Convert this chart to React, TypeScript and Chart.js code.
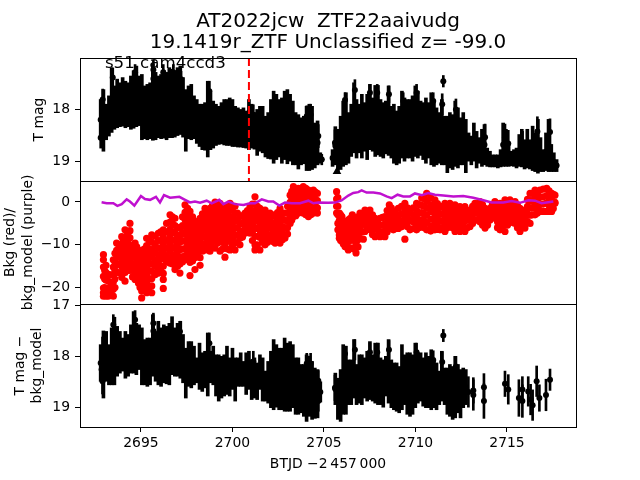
import React, { useEffect, useRef } from "react";
import { Chart, registerables } from "chart.js";

Chart.register(...registerables);

const FONT = "'DejaVu Sans'";
const titleLines = ["AT2022jcw  ZTF22aaivudg", "19.1419r_ZTF Unclassified z= -99.0"];
const sectorNote = "s51 cam4ccd3";
const xTicks = [2695, 2700, 2705, 2710, 2715];
const y1Ticks = [18, 19];
const y2Ticks = [0, -10, -20];
const y3Ticks = [17, 18, 19];
const discoveryTime = 2700.9;

const leftTimes = [2692.8,2692.95,2693.1,2693.25,2693.4,2693.55,2693.7,2693.85,2694,2694.15,2694.3,2694.45,2694.6,2694.75,2694.9,2695.05,2695.2,2695.35,2695.5,2695.65,2695.8,2695.95,2696.1,2696.25,2696.4,2696.55,2696.7,2696.85,2697,2697.15,2697.3,2697.45,2697.6,2697.75,2697.9,2698.05,2698.2,2698.35,2698.5,2698.65,2698.8,2698.95,2699.1,2699.25,2699.4,2699.55,2699.7,2699.85,2700,2700.15,2700.3,2700.45,2700.6,2700.75,2700.9,2701.05,2701.2,2701.35,2701.5,2701.65,2701.8,2701.95,2702.1,2702.25,2702.4,2702.55,2702.7,2702.85,2703,2703.15,2703.3,2703.45,2703.6,2703.75,2703.9,2704.05,2704.2,2704.35,2704.5,2704.65,2704.8];
const rightTimes = [2705.47,2705.62,2705.76,2705.91,2706.05,2706.2,2706.34,2706.49,2706.64,2706.78,2706.93,2707.07,2707.22,2707.36,2707.51,2707.66,2707.8,2707.95,2708.09,2708.24,2708.38,2708.53,2708.68,2708.82,2708.97,2709.11,2709.26,2709.4,2709.55,2709.7,2709.84,2709.99,2710.13,2710.28,2710.42,2710.57,2710.72,2710.86,2711.01,2711.15,2711.3,2711.44,2711.59,2711.74,2711.88,2712.03,2712.17,2712.32,2712.46,2712.61,2712.75,2712.9,2713.05,2713.19,2713.34,2713.48,2713.63,2713.77,2713.92,2714.07,2714.21,2714.36,2714.5,2714.65,2714.79,2714.94,2715.09,2715.23,2715.38,2715.52,2715.67,2715.81,2715.96,2716.11,2716.25,2716.4,2716.54,2716.69,2716.83,2716.98,2717.13,2717.27,2717.42,2717.56,2717.71];

const magLeftBright = [17.81,17.62,17.90,17.74,17.20,17.55,17.42,17.49,17.39,17.46,17.49,17.36,17.26,17.17,17.36,17.33,17.55,17.52,17.49,17.13,17.29,17.36,17.33,17.26,17.29,17.20,17.23,17.26,17.20,17.17,17.39,17.62,17.55,17.52,17.74,17.81,17.90,17.90,17.87,17.46,17.68,17.84,17.90,17.94,17.87,17.81,17.81,17.78,17.81,17.94,17.97,18.00,17.97,18.03,17.81,17.90,18.06,18.00,17.94,17.94,18.13,18.06,17.81,17.65,17.71,17.81,17.78,17.65,17.62,17.71,17.84,18.06,18.10,18.16,18.13,17.94,17.90,17.94,18.26,18.22,18.83];
const magLeftFaint = [18.58,18.80,18.58,18.51,18.44,18.38,18.35,18.33,18.32,18.35,18.33,18.38,18.36,18.33,18.31,18.58,18.56,18.58,18.56,18.59,18.58,18.54,18.56,18.55,18.58,18.54,18.54,18.53,18.50,18.48,18.53,18.80,18.56,18.58,18.56,18.65,18.71,18.77,18.78,18.91,18.77,18.74,18.69,18.67,18.66,18.68,18.69,18.69,18.71,18.71,18.72,18.72,18.73,18.74,18.77,18.74,18.76,18.88,18.80,18.83,18.91,18.94,18.95,19.03,18.96,18.91,19.03,18.96,19.04,18.99,19.06,19.06,19.14,19.06,19.04,19.17,19.17,19.15,19.12,19.06,19.03];
const magRightBright = [18.77,18.33,18.38,18.13,17.84,17.68,18.06,17.90,17.49,17.81,17.90,17.71,17.87,17.71,17.52,17.78,17.54,17.54,17.81,17.87,17.84,17.55,17.94,17.90,18.03,17.94,17.65,17.78,17.81,17.81,17.74,17.55,17.65,17.84,17.87,17.78,17.87,17.68,17.84,17.97,18.06,17.81,18.13,18.13,18.06,18.10,17.84,17.97,18.16,18.06,18.19,18.45,18.51,18.26,18.42,18.54,18.38,18.29,18.74,18.80,18.87,18.87,18.87,18.77,18.26,18.38,18.67,18.80,18.77,18.74,18.48,18.38,18.58,18.38,18.58,18.32,18.45,18.19,18.54,18.77,18.45,18.19,18.67,18.83,18.96];
const magRightFaint = [19.09,19.06,19.23,19.15,19.09,19.06,19.03,18.90,18.83,18.93,18.83,18.93,18.80,18.96,18.77,18.80,18.90,18.87,18.90,18.93,18.85,18.88,18.93,19.03,19.06,19.03,18.93,18.99,18.93,18.93,18.99,18.90,18.93,18.88,18.96,19.03,18.93,19.06,19.09,19.06,19.03,19.06,19.06,19.21,19.12,19.15,19.09,19.12,19.06,19.06,19.21,18.99,19.06,18.99,19.12,19.03,19.09,19.06,19.09,19.10,19.10,19.10,19.12,19.10,19.09,19.09,19.09,19.08,19.09,19.12,19.09,19.10,19.14,19.12,19.14,19.17,19.19,19.22,19.19,19.19,19.17,19.19,19.19,19.19,19.19];

const magPointTimes = [2692.91,2692.8,2693.46,2693.58,2694.68,2695.68,2695.68,2696.22,2696.77,2697.04,2697.19,2698.74,2700.87,2701.14,2704.06,2704.27,2704.69,2704.88,2705.6,2706.15,2706.69,2707.51,2707.91,2708.55,2709.33,2710.06,2710.97,2711.52,2711.46,2712.21,2713.8,2714.89,2715.07,2715.85,2716.66,2717.35];
const magPointValues = [17.81,18.54,17.39,17.94,17.29,17.24,17.41,17.29,17.29,17.46,17.42,17.65,18.22,18.10,18.13,18.10,18.51,18.96,18.64,17.82,17.63,17.68,17.68,17.71,17.84,17.68,17.84,17.46,17.90,18.00,18.53,18.53,18.65,18.67,18.42,18.43];
const magPointErrors = [0.2,0.2,0.18,0.2,0.15,0.18,0.2,0.15,0.15,0.15,0.15,0.19,0.2,0.19,0.2,0.2,0.22,0.1,0.25,0.14,0.2,0.16,0.16,0.16,0.16,0.16,0.16,0.11,0.2,0.2,0.25,0.25,0.25,0.25,0.28,0.25];

const limitTimes = [2704.8,2705.71];
const limitMags = [18.92,19.19];

const corrLeftBright = [17.77,17.50,17.51,17.77,17.44,17.23,17.41,17.51,17.64,17.51,17.57,17.38,17.12,17.35,17.38,17.44,17.67,17.64,17.64,17.18,17.51,17.31,17.44,17.38,17.41,17.35,17.22,17.44,17.35,17.31,17.57,17.84,17.71,17.71,17.80,18.03,17.74,17.93,17.90,17.54,17.90,17.80,17.97,17.97,18.00,17.97,17.80,18.03,17.84,18.03,18.03,17.93,18.10,17.93,17.90,18.07,18.03,18.13,17.97,18.03,18.29,18.10,17.90,17.67,17.77,17.84,17.84,17.64,17.74,17.71,17.77,18.03,18.03,18.16,18.16,17.97,18.00,18.10,18.23,18.26,18.50];
const corrLeftFaint = [18.49,18.82,18.49,18.56,18.56,18.56,18.39,18.33,18.29,18.43,18.39,18.33,18.33,18.36,18.26,18.56,18.56,18.59,18.56,18.39,18.49,18.56,18.59,18.52,18.54,18.56,18.36,18.39,18.39,18.43,18.52,18.82,18.59,18.62,18.56,18.52,18.65,18.69,18.62,18.78,18.52,18.56,18.78,18.88,18.82,18.78,18.75,18.78,18.65,18.88,18.59,18.59,18.59,18.75,18.65,18.85,18.82,18.85,18.65,18.88,18.88,18.92,19.01,19.05,19.00,19.05,19.05,19.08,19.08,19.08,19.01,19.14,19.14,19.11,19.18,19.28,19.18,19.24,19.22,19.21,18.90];
const corrRightBright = [18.33,18.43,18.26,17.77,17.80,18.07,18.07,17.67,18.16,17.97,17.97,18.03,17.90,17.71,17.97,17.74,17.74,18.03,18.07,18.00,17.67,18.07,18.13,18.13,18.20,17.77,17.97,17.93,17.93,17.97,17.74,17.93,17.93,18.03,17.93,18.00,17.87,18.07,18.13,18.29,17.90,18.23,18.23,18.16,18.20,18.00,18.16,18.26,18.23,18.26];
const corrRightFaint = [18.95,19.24,19.28,19.14,19.14,18.95,18.95,18.82,18.95,18.92,18.95,18.82,18.88,18.85,18.88,18.92,18.95,18.95,19.00,18.78,18.92,19.01,19.05,19.08,19.11,19.05,18.95,19.14,19.18,19.14,19.01,18.92,18.88,18.98,19.01,19.01,19.05,19.01,19.05,18.95,18.88,18.95,19.14,19.18,19.24,19.21,19.11,19.21,19.01,18.95];

const corrPointTimes = [2692.9,2692.85,2692.9,2693.49,2694.68,2695.68,2695.68,2697.13,2698.74,2701.14,2704.06,2704.27,2704.69,2704.69,2705.6,2706.15,2706.69,2707.51,2707.91,2708.55,2710.06,2710.97,2711.52,2711.46,2712.21,2712.89,2713.16,2713.16,2713.74,2713.74,2714.89,2715.07,2715.65,2715.84,2715.84,2716.16,2716.29,2716.4,2716.62,2716.77,2717.13,2717.35];
const corrPointValues = [17.87,18.26,18.49,17.38,17.28,17.35,17.50,17.51,17.74,18.10,18.14,18.14,18.48,18.88,18.62,17.95,17.87,17.92,17.92,17.87,17.92,18.07,17.59,18.11,18.20,18.70,18.67,18.76,18.61,18.88,18.54,18.65,18.82,18.65,18.88,18.69,18.85,18.96,18.49,18.82,18.76,18.46];
const corrPointErrors = [0.25,0.25,0.25,0.2,0.18,0.2,0.2,0.2,0.2,0.2,0.2,0.2,0.2,0.2,0.25,0.15,0.2,0.18,0.18,0.18,0.18,0.18,0.12,0.2,0.2,0.3,0.25,0.3,0.27,0.34,0.25,0.29,0.36,0.25,0.32,0.29,0.3,0.3,0.3,0.26,0.31,0.21];

const bkgTimes = [2692.95,2693.09,2693.22,2693.49,2693.67,2693.95,2694.13,2694.4,2694.68,2694.86,2695.04,2695.31,2695.59,2695.95,2696.22,2696.59,2696.86,2697.13,2697.41,2697.68,2697.95,2698.23,2698.5,2698.77,2699.05,2699.32,2699.59,2699.87,2700.14,2700.41,2700.69,2700.96,2701.23,2701.5,2701.78,2702.05,2702.33,2702.6,2702.87,2703.15,2703.33,2703.6,2703.87,2704.15,2704.42,2704.64,2705.69,2705.84,2705.98,2706.15,2706.33,2706.55,2706.75,2706.97,2707.15,2707.24,2707.51,2707.79,2708.06,2708.33,2708.57,2708.79,2709.06,2709.42,2709.7,2710.06,2710.34,2710.61,2711.06,2711.34,2711.61,2711.88,2712.16,2712.43,2712.7,2712.98,2713.25,2713.52,2713.8,2714.07,2714.34,2714.62,2714.89,2715.16,2715.44,2715.71,2715.98,2716.26,2716.53,2716.8,2717.17,2717.44,2717.62];
const bkgValues = [[-12.3,-13.5,-15.2,-17.4,-20.1,-21.2,-22],[-14.8,-16.5,-18.2,-20.5,-22],[-16.9,-18.5,-20.2,-22],[-13.5,-15.2,-17,-18.7,-20.4,-22],[-9.6,-11.3,-13,-14.7,-16.5],[-8.1,-9.8,-11.5,-13.2,-15,-16.7,-17.6],[-6.5,-8.2,-9.9,-11.6,-13.3,-15,-16.5,-18.5],[-5,-6.7,-8.4,-10.1,-11.8,-13.5,-15.2,-16],[-9.6,-11.3,-13,-14.7,-16.4,-18.1],[-11.2,-12.9,-14.6,-16.3,-18,-18.9],[-12.3,-14,-15.7,-17.4,-19.1,-20.8,-22.4],[-8.5,-10.2,-11.9,-13.6,-15.3,-17,-18.7,-20.4,-21.2],[-7.7,-9.4,-11.1,-12.8,-14.5,-16.2,-17.9,-19.6,-21.2],[-7.3,-9,-10.7,-12.4,-14.1,-15.8,-16.6],[-6.5,-8.2,-9.9,-11.6,-13.3,-15,-16.7,-18.1,-20.2],[-3,-4.7,-6.4,-8.1,-9.8,-11.5,-13.2,-14.3],[-3.8,-5.5,-7.2,-8.9,-10.6,-12.3,-14,-15.8],[-6,-7.7,-9.4,-11.1,-12.8,-14.5,-16.6],[-0.7,-2.4,-4.1,-5.8,-7.5,-9.2,-10.9,-12.6,-13.5],[-2.2,-3.9,-5.6,-7.3,-9,-10.7,-12.4,-14.1,-17.2],[-4.5,-6.2,-7.9,-9.6,-11.3,-13,-15.8],[-3.8,-5.5,-7.2,-8.9,-10.6,-13,-14.8],[-1.5,-3.2,-4.9,-6.6,-8.3,-10,-11.2],[-1.5,-3.2,-4.9,-6.6,-8.3,-10,-11.5],[0,-1.7,-3.4,-5.1,-6.8,-8.5,-10.8],[-0.3,-2,-3.7,-5.4,-7.1,-8.8,-11.5],[-1.5,-3.2,-4.9,-6.6,-8.3,-10,-12.9],[-0.3,-2,-3.7,-5.4,-7.1,-8.8,-11.2],[-1,-2.7,-4.4,-6.1,-7.8,-9.5,-11.2],[-3.4,-5.1,-6.8,-8.5,-10],[-2.6,-4.3,-6,-7.3],[-1.1,-2.8,-4.5,-6,-7.3],[1.2,-0.5,-2.2,-4,-6,-8,-10,-11.2],[-1.5,-3.2,-4.9,-6.6,-8.3,-11.2],[-1.9,-3.6,-5.3,-7,-8.7,-10],[-2.6,-4.3,-6,-7.7,-8.8],[-3.4,-5.1,-6.8,-8.5,-9.6],[-1.5,-3.2,-4.9,-6.6,-8.3,-9.6],[-2.6,-4.3,-6,-7.7,-8.4],[1.6,-0.1,-1.8,-3.5,-5],[3.6,1.9,0.2,-1.5,-3.2,-3.4],[3.2,1.5,-0.2,-1.9,-2.6],[3.6,1.9,0.2,-1.5,-2.6],[2.8,1.1,-0.6,-2.3,-3.4],[2.8,1.1,-0.6,-2.6],[2,0.3,-1.4,-2.6],[2.4,0.7,-1,-2.6],[-2.6,-4.3,-6,-7.7,-8.5],[-3.4,-5.1,-6.8,-8.5,-9.2],[-5,-6.7,-8.4,-10.4],[-4.2,-5.9,-7.6,-9.3,-11.2],[-3,-4.7,-6.4,-8.1,-10.8],[-4.6,-6.3,-8,-9.7,-11.9],[-2.6,-4.3,-6,-8.5],[-8.7],[-1.9,-3.6,-5.3,-6.9],[-1.9,-3.6,-5.3,-6.5],[-3.8,-5.5,-8.1],[-3.8,-5.5,-7.2,-8.1],[-3.4,-5.1,-6.8,-8.1],[-0.7,-2.4,-4.1,-5.7],[-2.2,-3.9,-5.6,-6.5],[-1.5,-3.2,-4.9,-6.2],[-0.3,-2,-3.7,-5,-8.7],[-2.6,-4.3,-6.5],[-0.3,-2,-3.7,-5.4,-6.5],[0.9,-0.8,-2.5,-4.2,-5.7],[2,0.3,-1.4,-3.1,-4.8,-6.5],[0.5,-1.2,-2.9,-4.6,-6.5],[-1.1,-2.8,-4.5,-6.5],[-0.3,-2,-3.7,-5.4,-6.9],[-0.3,-2,-3.7,-5.4],[-0.7,-2.4,-4.1,-5.8,-6.9],[-1.1,-2.8,-4.5,-6.2,-6.9],[-1.1,-2.8,-4.5,-6.2,-6.9],[-1.9,-3.6,-5.7],[-0.3,-2,-4.2],[0.1,-1.6,-3.3,-4.6],[-1.5,-3.2,-4.9,-6.1],[-1.5,-3.2,-4.2],[0.1,-1.6,-3.4],[-0.3,-2,-3.7,-5.4,-6.5],[0.5,-1.2,-2.9,-4.6,-6.9],[0.5,-1.2,-2.9,-4.2],[0.1,-1.6,-3.3,-5],[-1.5,-3.2,-4.9,-6.9],[-1.9,-3.6,-5.3,-6.1],[2,0.3,-1.4,-3.1,-5],[2.8,1.1,-0.6,-3],[2.8,1.1,-0.6,-2.2],[3.2,1.5,-0.2,-2.2],[2,0.3,-1.4,-2.2],[1.6,-0.1,-0.3]];
const bkgMoreTimes = [2693.02,2693.36,2693.58,2693.81,2694.04,2694.27,2694.54,2694.77,2694.95,2695.17,2695.45,2695.77,2696.08,2696.4,2696.72,2697,2697.27,2697.55,2697.82,2698.09,2698.36,2698.64,2698.91,2699.18,2699.45,2699.73,2700,2700.27,2700.55,2700.82,2701.09,2701.36,2701.64,2701.91,2702.19,2702.46,2702.73,2703.01,2703.24,2703.46,2703.73,2704.01,2704.28,2704.53,2705.76,2705.91,2706.06,2706.24,2706.44,2706.65,2706.86,2707.06,2707.38,2707.65,2707.92,2708.2,2708.45,2708.68,2708.92,2709.24,2709.56,2709.88,2710.2,2710.47,2710.83,2711.2,2711.47,2711.75,2712.02,2712.3,2712.57,2712.84,2713.12,2713.39,2713.66,2713.94,2714.2,2714.48,2714.75,2715.03,2715.3,2715.57,2715.85,2716.12,2716.4,2716.66,2716.98,2717.3,2717.53];
const bkgMoreValues = [[-16,-18,-20,-21.5],[-17,-19,-21],[-12,-14,-16,-18,-20],[-10.5,-12.5,-14.5,-16.5],[-9,-10.8,-12.5,-14.2,-16],[-7.5,-9,-11,-12.8,-14.5,-16],[-10.5,-12.5,-14.5,-16,-17.5],[-10.5,-12,-14,-15.5,-17.5],[-12,-13.5,-15,-17,-18.5,-20],[-11,-13,-15,-16.5,-18,-20],[-9,-11,-12.5,-14.2,-16,-18,-20],[-8,-10,-11.8,-13.5,-15,-17],[-7,-9,-11,-13,-15,-16],[-5,-7,-9,-10.8,-12.5,-14],[-3.5,-5,-7,-9,-10.8,-12.8,-14.5],[-6,-8,-9.8,-11.5,-13.5,-15],[-3.5,-5.5,-7.2,-9,-11,-12.8,-14],[-1.5,-3.2,-5,-6.8,-8.5,-10.2,-12,-13.5],[-3.5,-5,-7,-8.5,-10.2,-12,-13.8],[-5,-6.8,-8.5,-10.2,-12],[-2.8,-4.5,-6.2,-8,-9.8,-11.5],[-2.4,-4,-5.8,-7.5,-9.2,-10.8],[-0.8,-2.5,-4.2,-6,-7.5,-9.2,-10.6],[-1,-2.8,-4.5,-6,-7.8,-9.6],[-1,-2.8,-4.2,-6,-7.6,-9.4,-11],[-1,-2.5,-4.2,-6,-7.6,-9.2,-11],[-1.5,-3.4,-5,-6.8,-8.5,-10.2],[-2.6,-4.2,-6,-7.8,-9.5],[-3.2,-5,-6.8,-8.2],[-2,-3.6,-5.2,-6.8],[-0.5,-2,-3.6,-5.2,-7,-9],[-1,-2.6,-4.4,-6.2,-8,-10],[-2.5,-4.2,-6,-7.6,-9.4],[-3,-4.6,-6.2,-8,-9.4],[-3,-5,-6.5,-8.2,-9.2],[-2.5,-4.2,-6,-7.6,-9.2],[-2.6,-4,-5.8,-7.4,-8.8],[-1,-2.6,-4.4,-6,-7.5],[2.5,1,-0.8,-2.5,-4.2],[2.6,0.9,-0.8,-2.4,-3.2],[2.6,0.8,-1,-2.4],[3.2,1.5,-0.2,-2,-3],[2,0.3,-1.4,-3],[2.3,0.6,-1,-2.4],[1,-1,-3,-5,-6.5],[-3,-5,-7,-9],[-4.5,-6.2,-8,-9.8],[-4.6,-6.4,-8,-9.8,-10.6],[-3.8,-5.6,-7.2,-9,-10.8],[-4,-5.6,-7.2,-9,-11],[-3.5,-5.2,-7,-8.8,-10.5],[-3,-5,-7],[-2.8,-4.4,-6.2],[-3,-4.6,-6.4,-7.6],[-4.6,-6.4,-7.8],[-3.6,-5.4,-7,-8],[-2,-3.8,-5.5,-7],[-1.4,-3.2,-4.8,-6.2],[-2.8,-4.4,-6.2],[-1,-2.8,-4.4,-5.8],[-1.4,-3,-4.8,-5.8],[-1.4,-3,-4.6,-6.2],[-0.6,-2.6,-4.4,-6],[0.8,-1,-2.8,-4.4,-6],[1,-0.6,-2.2,-4,-5.6,-6.8],[-0.4,-2.2,-3.8,-5.6,-6.4],[-1,-2.8,-4.4,-6],[-1,-2.8,-4.6,-6],[-1.2,-3,-4.6,-6],[-1.6,-3.4,-5,-6.6],[-2,-3.6,-5.4,-6.6],[-2.6,-4.2,-6],[-1,-3,-5],[-0.8,-2.6,-4.2],[-0.6,-2.4,-4,-5.4],[-2.4,-4,-5.4],[-0.6,-2.4,-3.8],[-1,-2.8,-4.6,-6],[-0.6,-2.2,-4,-5.8],[-0.3,-2,-3.6,-5.4],[-0.8,-2.4,-4,-4.8],[-0.8,-2.4,-4.2,-6],[-2.4,-4,-5.6],[0.6,-1,-2.8,-4.6],[2,0.3,-1.4,-3],[2,0.3,-1.4,-2.6],[3,1.2,-0.5,-2.2],[2.6,0.9,-0.8,-2.2],[1.8,0.1,-1.5]];

const modelTimes = [2692.85,2693.13,2693.49,2693.71,2693.95,2694.22,2694.4,2694.64,2694.86,2695,2695.22,2695.5,2695.82,2696.04,2696.26,2696.59,2696.86,2697.1,2697.41,2697.68,2697.95,2698.23,2698.59,2698.87,2699.28,2699.5,2699.78,2700.14,2700.6,2700.96,2701.23,2701.6,2701.96,2702.23,2702.56,2702.87,2703.24,2703.69,2704.15,2704.42,2704.69,2705.24,2705.6,2705.96,2706.33,2706.6,2706.87,2707.06,2707.33,2707.7,2708.06,2708.42,2708.7,2709.02,2709.33,2709.7,2709.97,2710.34,2710.7,2711.06,2711.52,2712.07,2712.61,2713.16,2713.71,2714.16,2714.8,2715.25,2715.71,2716.17,2716.53,2716.89,2717.53];
const modelValues = [-0.08,-0.3,-0.3,-0.9,-0.5,0.6,0.1,-0.85,0.5,1.4,0.7,0.5,1.2,-0.1,1.6,1,1.1,1.2,0.5,-0.1,0.1,-0.15,0.3,-0.3,0.5,-0.5,0.1,-0.5,-0.7,-0.3,-0.3,0.6,0.1,0.1,-0.85,-0.15,-0.3,-0.3,0.3,-0.3,-0.1,-0.2,-0.15,0.35,1.5,2.1,2.3,2.7,2.2,2.2,2,1.3,0.9,1.7,1.3,1.3,2,1.6,2.1,1.7,1.5,1.3,1.4,1,0.4,-0.1,-0.1,0.2,-0.2,0.4,0.3,-0.3,0.1];

const bandBars = (times: number[], bright: number[], faint: number[]) =>
  times.flatMap((x, i) => (bright[i] === undefined || faint[i] === undefined ? [] : [{ x, y: [bright[i], faint[i]] }]));
const bandMids = (times: number[], bright: number[], faint: number[]) =>
  times.flatMap((x, i) => (bright[i] === undefined || faint[i] === undefined ? [] : [{ x, y: (bright[i] + faint[i]) / 2 }]));
const errBars = (times: number[], vals: number[], errs: number[]) =>
  times.map((x, i) => ({ x, y: [vals[i] - errs[i], vals[i] + errs[i]] }));
const xy = (times: number[], vals: number[]) => times.map((x, i) => ({ x, y: vals[i] }));

const magBars = [...bandBars(leftTimes, magLeftBright, magLeftFaint), ...bandBars(rightTimes, magRightBright, magRightFaint)];
const magMids = [...bandMids(leftTimes, magLeftBright, magLeftFaint), ...bandMids(rightTimes, magRightBright, magRightFaint)];
const corrRightBandTimes = rightTimes.slice(1, 51);
const corrBars = [...bandBars(leftTimes, corrLeftBright, corrLeftFaint), ...bandBars(corrRightBandTimes, corrRightBright, corrRightFaint)];
const corrMids = [...bandMids(leftTimes, corrLeftBright, corrLeftFaint), ...bandMids(corrRightBandTimes, corrRightBright, corrRightFaint)];
const bkgPoints = [
  ...bkgTimes.flatMap((x, i) => bkgValues[i].map((y) => ({ x, y }))),
  ...bkgMoreTimes.flatMap((x, i) => bkgMoreValues[i].map((y) => ({ x, y }))),
];

const barOpts = { type: "bar" as const, backgroundColor: "#000", borderWidth: 0, grouped: false, xAxisID: "x" };
const dotOpts = { type: "scatter" as const, backgroundColor: "#000", borderColor: "#000", pointRadius: 3, pointBorderWidth: 0, xAxisID: "x" };

const yScale = (ticks: number[], min: number, max: number, reverse: boolean, title: string | string[], titlePad: number) => ({
  type: "linear" as const,
  position: "left" as const,
  stack: "panels",
  stackWeight: 1,
  min,
  max,
  reverse,
  afterFit: (s: any) => { s.width = 80; },
  afterBuildTicks: (s: any) => { s.ticks = ticks.map((value) => ({ value })); },
  border: { display: true, color: "#000", width: 1 },
  grid: { drawOnChartArea: false, drawTicks: true, tickLength: 5, color: "#000" },
  ticks: { color: "#000", padding: 5, font: { family: FONT, size: 13.9 }, callback: (v: any) => String(v).replace("-", "\u2212") },
  title: { display: true, text: title, color: "#000", font: { family: FONT, size: 13.9, lineHeight: 1.25 }, padding: { top: titlePad, bottom: 0 } },
});

const framePlugin = {
  id: "frame",
  afterDatasetsDraw(chart: any) {
    const { ctx, chartArea: a, scales } = chart;
    ctx.save();
    ctx.fillStyle = "#000";
    ctx.font = `16.67px ${FONT}`;
    ctx.textBaseline = "middle";
    ctx.fillText(sectorNote, scales.x.getPixelForValue(2693.03), scales.y1.getPixelForValue(17.13));
    ctx.strokeStyle = "#000";
    ctx.lineWidth = 1;
    ctx.strokeRect(a.left + 0.5, a.top + 0.5, a.right - a.left, a.bottom - a.top);
    [scales.y1.bottom, scales.y2.bottom].forEach((y: number) => {
      ctx.beginPath();
      ctx.moveTo(a.left, Math.round(y) + 0.5);
      ctx.lineTo(a.right, Math.round(y) + 0.5);
      ctx.stroke();
    });
    ctx.restore();
  },
};

export default function App() {
  const ref = useRef<HTMLCanvasElement>(null);
  useEffect(() => {
    if (!ref.current) return;
    const chart = new Chart(ref.current, {
      type: "scatter",
      plugins: [framePlugin],
      data: {
        datasets: [
          { ...barOpts, label: "T mag errors", yAxisID: "y1", barThickness: 3, data: magBars, order: 5 },
          { ...barOpts, label: "T mag point errors", yAxisID: "y1", barThickness: 2, data: errBars(magPointTimes, magPointValues, magPointErrors), order: 5 },
          { ...dotOpts, label: "T mag", yAxisID: "y1", data: [...magMids, ...xy(magPointTimes, magPointValues)], order: 4 },
          { ...dotOpts, label: "T mag limits", yAxisID: "y1", pointStyle: "triangle", pointRadius: 5, data: xy(limitTimes, limitMags), order: 4 },
          { type: "line", label: "Discovery", xAxisID: "x", yAxisID: "y1", data: [{ x: discoveryTime, y: 17.015 }, { x: discoveryTime, y: 19.37 }], borderColor: "#ff0000", borderWidth: 2, borderDash: [8, 4], pointRadius: 0, order: 1 },
          { ...dotOpts, label: "Bkg", yAxisID: "y2", backgroundColor: "#ff0000", borderColor: "#ff0000", pointRadius: 3.6, data: bkgPoints, order: 3 },
          { type: "line", label: "bkg_model", xAxisID: "x", yAxisID: "y2", data: xy(modelTimes, modelValues), borderColor: "#bf10cf", borderWidth: 2.5, pointRadius: 0, tension: 0, order: 2 },
          { ...barOpts, label: "T mag − bkg_model errors", yAxisID: "y3", barThickness: 3, data: corrBars, order: 5 },
          { ...barOpts, label: "point errors", yAxisID: "y3", barThickness: 2, data: errBars(corrPointTimes, corrPointValues, corrPointErrors), order: 5 },
          { ...dotOpts, label: "T mag − bkg_model", yAxisID: "y3", data: [...corrMids, ...xy(corrPointTimes, corrPointValues)], order: 4 },
        ] as any,
      },
      options: {
        responsive: false,
        animation: false,
        layout: { padding: { left: 0, right: 64, top: 11, bottom: 0 } },
        plugins: {
          legend: { display: false },
          tooltip: { enabled: false },
          title: { display: true, fullSize: false, text: titleLines, color: "#000", font: { family: FONT, size: 20, weight: "normal", lineHeight: 1.05 }, padding: { top: 0, bottom: 5 } },
        },
        scales: {
          x: {
            type: "linear",
            min: 2691.67,
            max: 2718.77,
            offset: false,
            afterFit: (s: any) => { s.height = 53; },
            afterBuildTicks: (s: any) => { s.ticks = xTicks.map((value) => ({ value })); },
            border: { display: true, color: "#000" },
            grid: { offset: false, drawOnChartArea: false, drawTicks: true, tickLength: 5, color: "#000" },
            ticks: { color: "#000", padding: 3, maxRotation: 0, font: { family: FONT, size: 13.9 }, callback: (v: any) => String(v) },
            title: { display: true, text: "BTJD \u22122\u2009457\u2009000", color: "#000", font: { family: FONT, size: 13.9 }, padding: { top: 0, bottom: 7 } },
          },
          y3: yScale(y3Ticks, 16.97, 19.39, true, ["T mag \u2212", "bkg_model"], 11.6),
          y2: yScale(y2Ticks, -23.83, 4.9, false, ["Bkg (red)/", "bkg_model (purple)"], 2),
          y1: yScale(y1Ticks, 17.015, 19.37, true, "T mag", 30.3),
        } as any,
      },
    });
    return () => chart.destroy();
  }, []);
  return (
    <div style={{ position: "fixed", left: 0, top: 0, width: 640, height: 480, background: "#fff" }}>
      <canvas ref={ref} width={640} height={480} style={{ display: "block" }} />
    </div>
  );
}
